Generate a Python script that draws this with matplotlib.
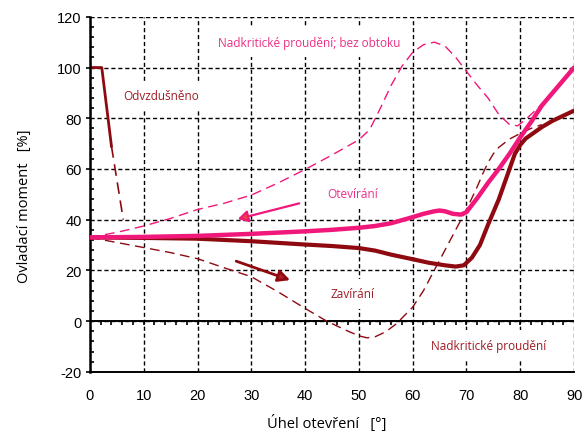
import numpy as np
import matplotlib
matplotlib.use("Agg")
import matplotlib.pyplot as plt
from matplotlib.patches import FancyArrowPatch
from matplotlib.ticker import MultipleLocator

plt.rcParams["axes.unicode_minus"] = False

# data
# closing (Zavírání) - thick dark red
close_x = [0, 10, 20, 30, 40, 45, 50, 53, 56, 60, 63, 66, 68, 69.5, 71, 72.5,
           74, 76, 78, 79, 80, 81, 82, 84, 86, 88, 90]
close_y = [33, 32.8, 32.5, 31.5, 30.2, 29.6, 28.8, 27.8, 26.2, 24.4, 23, 22,
           21.5, 22, 25, 30, 38, 48, 60, 66, 69.5, 72, 73.5, 76.5, 79, 81, 83]

# opening (Otevírání) - thick pink
open_x = [0, 10, 20, 30, 40, 45, 50, 53, 56, 58, 60, 62, 64, 65, 66, 67.5, 69,
          70, 72, 74, 76, 78, 80, 82, 84, 86, 88, 90]
open_y = [33, 33.2, 33.6, 34.4, 35.4, 36, 36.8, 37.5, 38.6, 39.8, 41, 42.3,
          43.3, 43.6, 43.3, 42.3, 42, 43, 48.5, 54.5, 60, 66, 72.5, 78.5, 85,
          90, 95, 100]

# supercritical flow without bypass - thin dashed pink
bez_x = [0, 5, 10, 15, 20, 25, 30, 35, 40, 45, 50, 52, 54, 56, 58, 60, 62, 64,
         66, 68, 70, 72, 74, 76, 78, 79.5, 81, 83, 85]
bez_y = [33, 35, 37.5, 40.5, 44, 46.5, 49.7, 54.5, 59.8, 65.5, 71.5, 75.5, 84,
         93, 100.5, 106, 109, 110, 108.5, 104, 98.5, 93, 88, 81.5, 77.5, 77,
         79.5, 83.5, 87.5]

# supercritical flow (closing) - thin dashed dark red
nad_x = [0, 5, 10, 15, 20, 25, 30, 35, 40, 44, 48, 50, 51.5, 53, 55, 57, 60,
         62, 64, 66, 68, 70, 72, 73, 74, 75, 76, 78, 80, 82, 84]
nad_y = [33, 31, 29, 27, 24.6, 21, 17.5, 11.5, 5, 0, -4, -5.8, -6.6, -6.2,
         -4.2, -1, 5.5, 12, 20, 28, 36, 44, 53, 58, 62.5, 66, 68.5, 71.8, 74,
         76, 77.5]

# vented (Odvzdušněno)
vent_solid_x = [0, 2.2, 4]
vent_solid_y = [100, 100, 69]
vent_dash_x = [4, 6.2]
vent_dash_y = [69, 40]

dark = "#8e0a10"
dark_txt = "#9e1c24"
pink = "#f0187a"
pink_txt = "#ec2f86"

fig = plt.figure(figsize=(5.84, 4.35), dpi=100)
ax = fig.add_axes([0.154, 0.143, 0.829, 0.816])

ax.set_xlim(0, 90)
ax.set_ylim(-20, 120)
ax.xaxis.set_major_locator(MultipleLocator(10))
ax.yaxis.set_major_locator(MultipleLocator(20))
ax.yaxis.set_minor_locator(MultipleLocator(4))

ax.set_axisbelow(True)
ax.grid(True, which="major", color="black", linestyle=(0, (3, 2)), linewidth=1)

for s in ["top", "right"]:
    ax.spines[s].set_visible(False)
ax.spines["left"].set_linewidth(1.8)
ax.spines["bottom"].set_linewidth(1.4)

ax.tick_params(axis="x", which="both", length=0, pad=12)
ax.tick_params(axis="y", which="major", direction="out", length=3, width=1.2, pad=3)
ax.tick_params(axis="y", which="minor", direction="in", length=3, width=1.2)
for lab in ax.get_xticklabels() + ax.get_yticklabels():
    lab.set_fontfamily("Liberation Sans")
    lab.set_fontsize(10.5)

# zero line with little ticks below it
ax.axhline(0, color="black", linewidth=1.4, zorder=1)
ax.vlines(np.arange(2, 90, 2), -1.6, 0, color="black", linewidth=1.2, zorder=1)

dash = (0, (7, 4))
ax.plot(bez_x, bez_y, color=pink, linewidth=1, linestyle=dash, zorder=2)
ax.plot(nad_x, nad_y, color=dark, linewidth=1, linestyle=dash, zorder=2)
ax.plot(vent_solid_x, vent_solid_y, color=dark, linewidth=2, zorder=2)
ax.plot(vent_dash_x, vent_dash_y, color=dark, linewidth=1.2, linestyle=dash, zorder=2)
ax.plot(close_x, close_y, color=dark, linewidth=3, solid_capstyle="round", zorder=3)
ax.plot(open_x, open_y, color=pink, linewidth=3.2, solid_capstyle="round", zorder=4)

# direction arrows
a1 = FancyArrowPatch((39.4, 46.7), (27, 40), arrowstyle="-|>,head_length=6,head_width=3.5",
                     linewidth=1.6, edgecolor=pink, facecolor="#f0443c", zorder=5)
a2 = FancyArrowPatch((26.7, 24), (37.7, 15.8), arrowstyle="-|>,head_length=7,head_width=3.5",
                     linewidth=2, edgecolor=dark, facecolor="#b0222a", zorder=5)
ax.add_patch(a1)
ax.add_patch(a2)

box = dict(facecolor="white", edgecolor="none", pad=6)
tkw = dict(fontfamily="Open Sans", fontsize=8.5, ha="center", va="center", zorder=3)
ax.text(13.3, 89, "Odvzdušněno", color=dark_txt, bbox=box, **tkw)
ax.text(40.7, 110, "Nadkritické proudění; bez obtoku", color=pink_txt, bbox=box, **tkw)
ax.text(48.8, 50.2, "Otevírání", color=pink_txt, bbox=box, **tkw)
ax.text(48.8, 10.8, "Zavírání", color=dark_txt, bbox=box, **tkw)
ax.text(74.1, -9.5, "Nadkritické proudění", color=dark_txt, bbox=box, **tkw)

ax.set_xlabel("Úhel otevření   [°]", fontfamily="Open Sans", fontsize=10.5, va="center")
ax.xaxis.set_label_coords(0.49, -0.143)
ax.set_ylabel("Ovladací moment   [%]", fontfamily="Open Sans", fontsize=10.5)
ax.yaxis.set_label_coords(-0.12, 0.47)

fig.savefig("out.png", dpi=100)
